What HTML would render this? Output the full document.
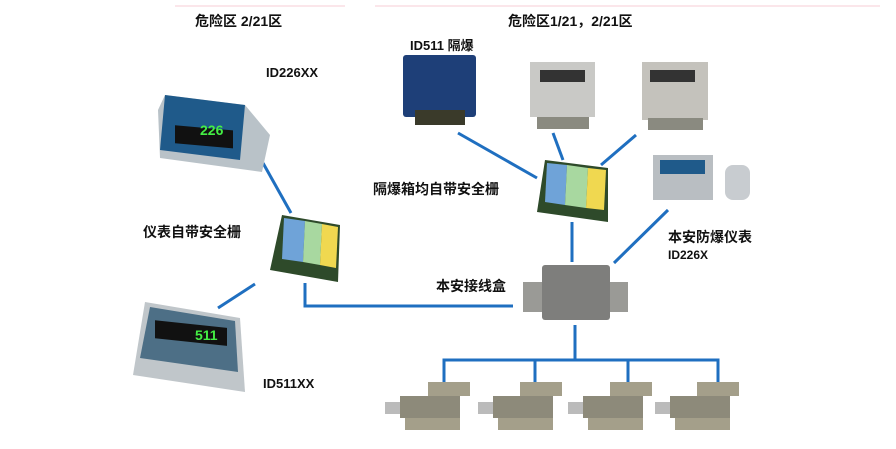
<!DOCTYPE html>
<html><head><meta charset="utf-8"><style>
body{margin:0;background:#fff}
svg{display:block}
text{font-family:"Liberation Sans","Noto Sans CJK SC",sans-serif;font-weight:bold;fill:#111}
</style></head><body>
<svg width="896" height="449" viewBox="0 0 896 449" xmlns="http://www.w3.org/2000/svg">
<line x1="175" y1="6" x2="345" y2="6" stroke="#fbe6ea" stroke-width="2"/>
<line x1="375" y1="6" x2="880" y2="6" stroke="#fbe6ea" stroke-width="2"/>
<g stroke="#1f6fc0" stroke-width="3" fill="none">
<line x1="263" y1="163" x2="291" y2="213"/>
<line x1="255" y1="284" x2="218" y2="308"/>
<polyline points="305,283 305,306 513,306"/>
<line x1="458" y1="133" x2="537" y2="178"/>
<line x1="553" y1="133" x2="563" y2="160"/>
<line x1="636" y1="135" x2="601" y2="165"/>
<line x1="572" y1="222" x2="572" y2="262"/>
<line x1="668" y1="210" x2="614" y2="263"/>
<line x1="575" y1="325" x2="575" y2="360"/>
<polyline points="444,382 444,360 718,360 718,382"/>
<line x1="535" y1="360" x2="535" y2="382"/>
<line x1="628" y1="360" x2="628" y2="382"/>
</g>
<!-- ID226XX -->
<polygon points="165,95 245,105 270,135 262,172 160,158 158,110" fill="#b9c2c8"/>
<polygon points="165,95 245,105 240,160 160,150" fill="#1f5a8a"/>
<rect x="175" y="110" width="58" height="18" fill="#111" transform="skewY(5)"/>
<text x="200" y="135" font-size="14" fill="#5f5" style="fill:#4e4">226</text>
<!-- ID511XX -->
<polygon points="145,302 240,318 245,392 133,375" fill="#c0c6ca"/>
<polygon points="150,307 235,321 238,372 140,358" fill="#4d6f86"/>
<rect x="155" y="322" width="72" height="18" fill="#111" transform="skewY(6) translate(0,-18)"/>
<text x="195" y="340" font-size="14" style="fill:#4e4">511</text>
<!-- barriers -->
<polygon points="282,215 340,225 338,282 270,270" fill="#2e4a2a"/>
<polygon points="284,218 305,221 303,262 282,259" fill="#6fa3d8"/>
<polygon points="305,221 322,224 320,265 303,262" fill="#a8d8a0"/>
<polygon points="322,224 338,227 336,268 320,265" fill="#f0d850"/>
<polygon points="545,160 608,168 608,222 537,212" fill="#2e4a2a"/>
<polygon points="547,163 567,165 565,205 545,202" fill="#6fa3d8"/>
<polygon points="567,165 588,168 586,208 565,205" fill="#a8d8a0"/>
<polygon points="588,168 606,170 604,210 586,208" fill="#f0d850"/>
<!-- top devices -->
<rect x="403" y="55" width="73" height="62" rx="3" fill="#1e3f78"/>
<rect x="415" y="110" width="50" height="15" fill="#3a3a2a"/>
<rect x="530" y="62" width="65" height="55" fill="#c9c9c6"/>
<rect x="540" y="70" width="45" height="12" fill="#333"/>
<rect x="537" y="117" width="52" height="12" fill="#8a8a80"/>
<rect x="642" y="62" width="66" height="58" fill="#c4c2bc"/>
<rect x="650" y="70" width="45" height="12" fill="#333"/>
<rect x="648" y="118" width="55" height="12" fill="#8a8a80"/>
<!-- small ID226X -->
<rect x="653" y="155" width="60" height="45" fill="#b9bec2"/>
<rect x="660" y="160" width="45" height="14" fill="#1f5a8a"/>
<rect x="725" y="165" width="25" height="35" rx="8" fill="#c8ccd0"/>
<!-- junction box -->
<rect x="523" y="282" width="105" height="30" fill="#9a9a96"/>
<rect x="542" y="265" width="68" height="55" rx="3" fill="#7e7e7c"/>
<!-- load cells -->
<g fill="#a49f8a">
<rect x="428" y="382" width="42" height="14"/><rect x="400" y="396" width="60" height="22" fill="#8d8a7a"/><rect x="405" y="418" width="55" height="12"/><rect x="385" y="402" width="15" height="12" fill="#bbb"/>
<rect x="520" y="382" width="42" height="14"/><rect x="493" y="396" width="60" height="22" fill="#8d8a7a"/><rect x="498" y="418" width="55" height="12"/><rect x="478" y="402" width="15" height="12" fill="#bbb"/>
<rect x="610" y="382" width="42" height="14"/><rect x="583" y="396" width="60" height="22" fill="#8d8a7a"/><rect x="588" y="418" width="55" height="12"/><rect x="568" y="402" width="15" height="12" fill="#bbb"/>
<rect x="697" y="382" width="42" height="14"/><rect x="670" y="396" width="60" height="22" fill="#8d8a7a"/><rect x="675" y="418" width="55" height="12"/><rect x="655" y="402" width="15" height="12" fill="#bbb"/>
</g>
<text x="195" y="26" font-size="14">危险区 2/21区</text>
<text x="508" y="26" font-size="14">危险区1/21，2/21区</text>
<text x="410" y="50" font-size="13">ID511 隔爆</text>
<text x="266" y="77" font-size="13">ID226XX</text>
<text x="373" y="194" font-size="14">隔爆箱均自带安全栅</text>
<text x="143" y="237" font-size="14">仪表自带安全栅</text>
<text x="668" y="242" font-size="14">本安防爆仪表</text>
<text x="668" y="259" font-size="12">ID226X</text>
<text x="436" y="291" font-size="14">本安接线盒</text>
<text x="263" y="388" font-size="13">ID511XX</text>
</svg>
</body></html>
